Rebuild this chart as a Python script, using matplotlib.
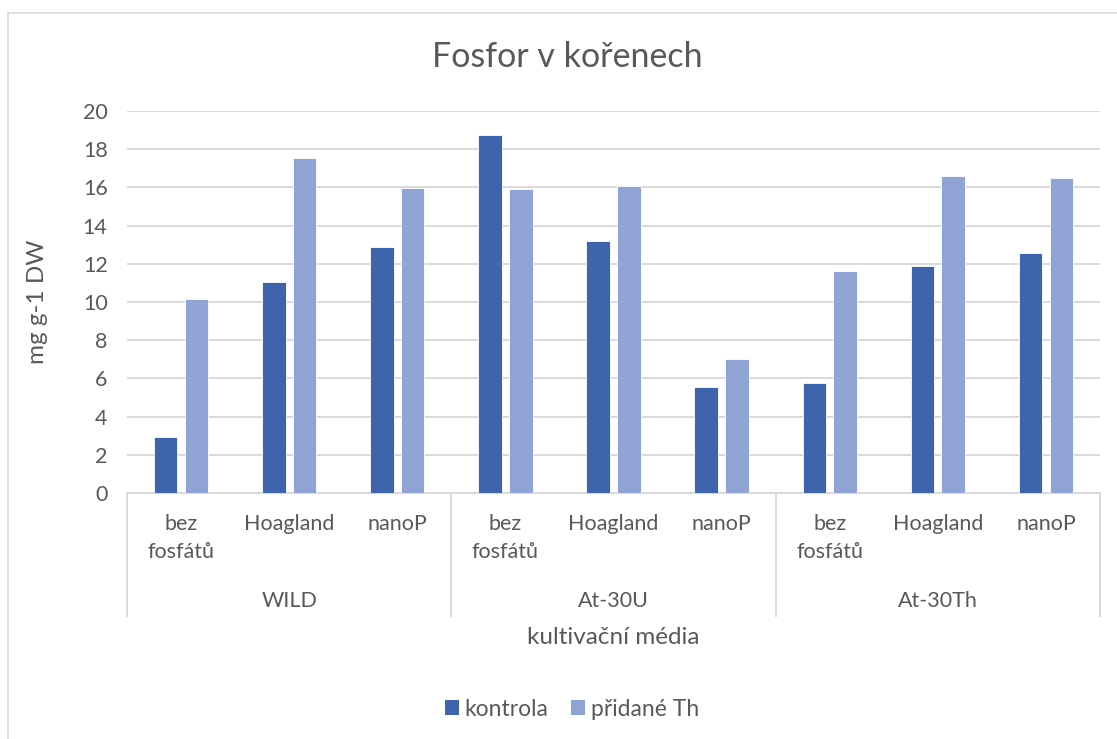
import matplotlib
matplotlib.use('Agg')
import matplotlib.pyplot as plt
from matplotlib import transforms
from matplotlib.patches import Rectangle, Patch
from matplotlib.lines import Line2D
import numpy as np

plt.rcParams['font.family'] = ['Lato', 'DejaVu Sans']

# data
groups = ['WILD', 'At-30U', 'At-30Th']
media = ['bez\nfosfátů', 'Hoagland', 'nanoP']
kontrola = [2.95, 11.05, 12.9, 18.75, 13.2, 5.55, 5.75, 11.9, 12.55]
pridane_th = [10.15, 17.55, 15.97, 15.9, 16.05, 7.0, 11.62, 16.6, 16.5]
series_names = ['kontrola', 'přidané Th']
y_ticks = list(range(0, 21, 2))

W, H = 1117, 739
TXT = '#595959'
GRID = '#D9D9D9'
C1 = '#3D64AD'
C2 = '#8FA4D4'
FS = 15.5

fig = plt.figure(figsize=(W / 100, H / 100), dpi=100)
ax = fig.add_axes([127 / W, 1 - 493 / H, (1100 - 127) / W, (493 - 111) / H])

x = np.arange(len(kontrola))
bw = 0.218
off = 0.142
ax.bar(x - off, kontrola, bw, color=C1, edgecolor='white', linewidth=0.6, zorder=3)
ax.bar(x + off, pridane_th, bw, color=C2, edgecolor='white', linewidth=0.6, zorder=3)

ax.set_xlim(-0.5, len(kontrola) - 0.5)
ax.set_ylim(0, 20)
ax.set_yticks(y_ticks)
ax.tick_params(axis='y', length=0, labelsize=FS, labelcolor=TXT, pad=14)
ax.set_xticks([])
ax.grid(axis='y', color=GRID, linewidth=1.4, zorder=0)
for s in ['top', 'right', 'left']:
    ax.spines[s].set_visible(False)
ax.spines['bottom'].set_color(GRID)
ax.spines['bottom'].set_linewidth(1.4)

# multi-level category axis
tr = transforms.blended_transform_factory(ax.transData, fig.transFigure)
def fy(py):
    return 1 - py / H

for i in range(len(kontrola)):
    for k, line in enumerate(media[i % 3].split('\n')):
        ax.text(i, fy(524 + 28 * k), line, transform=tr, ha='center', va='center',
                fontsize=FS, color=TXT)
for g, name in enumerate(groups):
    ax.text(g * 3 + 1, fy(601), name, transform=tr, ha='center', va='center',
            fontsize=FS, color=TXT)
for g in range(len(groups) + 1):
    ax.add_line(Line2D([g * 3 - 0.5, g * 3 - 0.5], [fy(493), fy(616)], transform=tr,
                       color=GRID, linewidth=1.4, clip_on=False))

fig.text(613 / W, fy(638), 'kultivační média', ha='center', va='center', fontsize=17.5, color=TXT)
fig.text(38 / W, fy(302), 'mg g-1 DW', ha='center', va='center', rotation=90,
         fontsize=17.5, color=TXT)
fig.text(567 / W, fy(57), 'Fosfor v kořenech', ha='center', va='center', fontsize=24.5, color=TXT)

handles = [Patch(facecolor=C1), Patch(facecolor=C2)]
fig.legend(handles, series_names, loc='center', bbox_to_anchor=(572 / W, fy(709)), ncol=2,
           frameon=False, fontsize=16.5, labelcolor=TXT, handlelength=0.6, handleheight=0.6,
           handletextpad=0.25, columnspacing=1.0)

# chart area border
fig.patches.append(Rectangle((8 / W, -0.1), 1.2, fy(13) + 0.1, transform=fig.transFigure,
                             fill=False, edgecolor=GRID, linewidth=1.2))

fig.savefig('out.png', dpi=100)
